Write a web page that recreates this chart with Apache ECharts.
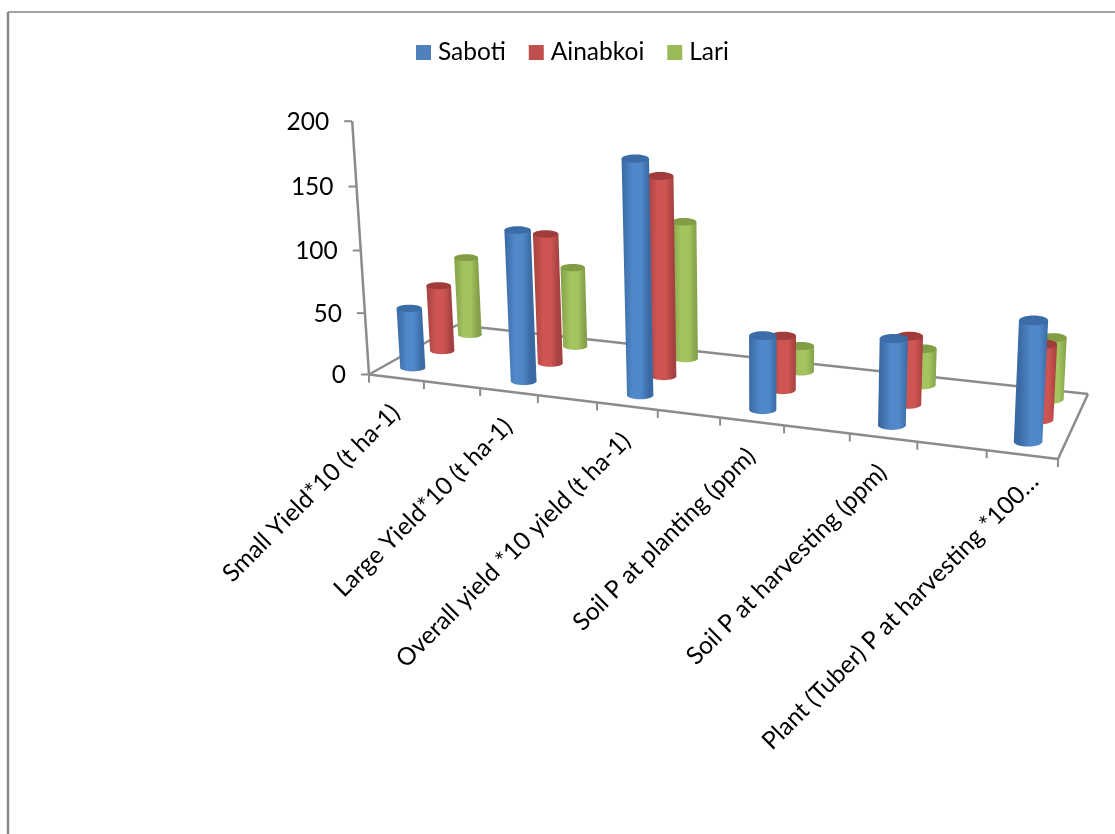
<!DOCTYPE html>
<html>
<head>
<meta charset="utf-8">
<title>Yield and soil P by site</title>
<style>html,body{margin:0;padding:0;background:#fff}#chart{width:1115px;height:834px}</style>
<script src="https://cdn.jsdelivr.net/npm/echarts@6/dist/echarts.min.js"></script>
</head>
<body>
<div id="chart"></div>
<script>
const categories = [
  'Small Yield*10 (t ha-1)',
  'Large Yield*10 (t ha-1)',
  'Overall yield *10 yield (t ha-1)',
  'Soil P at planting (ppm)',
  'Soil P at harvesting (ppm)',
  'Plant (Tuber) P at harvesting *100…'
];
const seriesNames = ['Saboti', 'Ainabkoi', 'Lari'];
const saboti = [49, 120, 181, 57, 65, 88];
const ainabkoi = [55, 106, 159, 43, 53, 57];
const lari = [67, 67, 113, 21, 29, 48];
const yTicks = [0, 50, 100, 150, 200];

// Perspective camera for the floor plane: corners of the floor on screen,
// then the foreshortening of the value direction.
const FL = [369, 374.5], FR = [1058, 459], BR = [1088, 394], BL = [457, 325];
const VALUE_MAX = 200, GRID = { left: 369, top: 120, width: 689, height: 254 };
const RISE = 1.2146, C = 0.0002048, VANISH_X = 763, FONT = 'Lato';

const sx = FL[0] - FR[0] + BR[0] - BL[0], sy = FL[1] - FR[1] + BR[1] - BL[1];
const dx1 = FR[0] - BR[0], dy1 = FR[1] - BR[1], dx2 = BL[0] - BR[0], dy2 = BL[1] - BR[1];
const det = dx1 * dy2 - dx2 * dy1;
const G = (sx * dy2 - dx2 * sy) / det, H = (dx1 * sy - sx * dy1) / det;
const A = FR[0] * (1 + G) - FL[0], B = BL[0] * (1 + H) - FL[0];
const D = FR[1] * (1 + G) - FL[1], E = BL[1] * (1 + H) - FL[1];
const EY = -(FL[1] * C + RISE), EX = -VANISH_X * C;

function project(u, w, v) {
  const z = 1 + G * u + H * w - C * v;
  return {
    x: (FL[0] + A * u + B * w + EX * v) / z,
    y: (FL[1] + D * u + E * w + EY * v) / z,
    s: 1 / z
  };
}
// Category band centre on the grid -> position along the floor's long edge.
function floorU(api, cat) {
  const f = (api.coord([cat, 0])[0] - GRID.left) / GRID.width;
  return (12 * f - 0.51) / 11;
}
function valueOf(api, cat, val) {
  return (api.coord([cat, 0])[1] - api.coord([cat, val])[1]) / GRID.height * VALUE_MAX;
}

const palette = [
  { base: '#4F81BD', edge: '#3A69A3', mid: '#5088CA', top: '#3B6CA8' },
  { base: '#C0504D', edge: '#A54140', mid: '#CE5552', top: '#A23C3A' },
  { base: '#9BBB59', edge: '#84A04A', mid: '#A3C45E', top: '#819D46' }
];

function cylinder(seriesIdx) {
  const col = palette[seriesIdx];
  const w = (seriesIdx + 0.55) / 3;
  return function (params, api) {
    const cat = api.value(0);
    const u = floorU(api, cat);
    const v = valueOf(api, cat, api.value(1));
    const b = project(u, w, 0), t = project(u, w, v);
    const rb = 12.7 * b.s, rt = 12.7 * t.s;
    const k = 0.28 + 0.06 * u;
    const fill = {
      type: 'linear', global: true,
      x: t.x - rt, y: t.y, x2: t.x + rt, y2: t.y,
      colorStops: [
        { offset: 0, color: col.edge },
        { offset: 0.4, color: col.mid },
        { offset: 0.7, color: col.mid },
        { offset: 1, color: col.edge }
      ]
    };
    return {
      type: 'group',
      children: [
        { type: 'ellipse', shape: { cx: b.x, cy: b.y, rx: rb, ry: rb * k }, style: { fill: fill } },
        { type: 'polygon', shape: { points: [[t.x - rt, t.y], [t.x + rt, t.y], [b.x + rb, b.y], [b.x - rb, b.y]] }, style: { fill: fill } },
        { type: 'ellipse', shape: { cx: t.x, cy: t.y, rx: rt, ry: rt * k }, style: { fill: col.top } }
      ]
    };
  };
}

// Floor outline, slanted value axis, tick marks and all axis text.
function frame(params, api) {
  const line = { stroke: '#8C8C8C', lineWidth: 2.5 };
  const tickLine = { stroke: '#8C8C8C', lineWidth: 2 };
  const seg = (a, b, style) => ({ type: 'line', shape: { x1: a.x, y1: a.y, x2: b.x, y2: b.y }, style: style });
  const c = [];
  const fl = project(0, 0, 0), fr = project(1, 0, 0), br = project(1, 1, 0), bl = project(0, 1, 0);
  c.push(seg(fl, fr, line), seg(fr, br, line), seg(br, bl, line), seg(bl, fl, line));
  c.push(seg(fl, project(0, 0, valueOf(api, 0, VALUE_MAX)), line));
  yTicks.forEach(function (tick) {
    const p = project(0, 0, valueOf(api, 0, tick));
    c.push(seg(p, { x: p.x - 8, y: p.y }, tickLine));
    c.push({
      type: 'text', x: p.x - 23, y: p.y + 1,
      style: { text: String(tick), font: '24.5px ' + FONT, fill: '#000', align: 'right', verticalAlign: 'middle' }
    });
  });
  for (let k = 0; k <= 11; k++) {
    const p = project(k / 11, 0, 0);
    c.push(seg(p, { x: p.x, y: p.y + 8 }, tickLine));
  }
  categories.forEach(function (name, i) {
    const p = project(floorU(api, i), 0, 0);
    // The shortened last label sits further along its own diagonal.
    const last = i === categories.length - 1;
    c.push({
      type: 'text', x: p.x + (last ? 13 : 0), y: p.y + (last ? 23 : 31), rotation: Math.PI / 4,
      style: { text: name, font: '24.5px ' + FONT, fill: '#000', align: 'right', verticalAlign: 'middle' }
    });
  });
  return { type: 'group', children: c };
}

const sets = [saboti, ainabkoi, lari];
const series = [{
  type: 'custom', name: 'frame', z: 1, silent: true,
  renderItem: frame, data: [[0, 0]], encode: { x: 0, y: 1 }
}];
seriesNames.forEach(function (name, j) {
  series.push({
    type: 'custom', name: name, z: 5 - j,
    color: palette[j].base,
    itemStyle: { color: palette[j].base },
    renderItem: cylinder(j),
    encode: { x: 0, y: 1 },
    data: sets[j].map(function (val, i) { return [i, val]; })
  });
});

const chart = echarts.init(document.getElementById('chart'), null, { renderer: 'canvas' });
chart.setOption({
  animation: false,
  backgroundColor: '#fff',
  legend: {
    data: seriesNames, left: 411, top: 35, itemWidth: 15, itemHeight: 15, itemGap: 23,
    icon: 'rect',
    textStyle: { fontFamily: FONT, fontSize: 24.5, color: '#000', padding: [0, 0, 0, 2] }
  },
  grid: GRID,
  xAxis: { type: 'category', data: categories, show: false },
  yAxis: { type: 'value', min: 0, max: VALUE_MAX, interval: 50, show: false },
  graphic: [
    { type: 'line', shape: { x1: 8, y1: 12, x2: 1115, y2: 12 }, style: { stroke: '#868686', lineWidth: 1.5 } },
    { type: 'line', shape: { x1: 8, y1: 12, x2: 8, y2: 834 }, style: { stroke: '#868686', lineWidth: 2.5 } }
  ],
  series: series
});
</script>
</body>
</html>
